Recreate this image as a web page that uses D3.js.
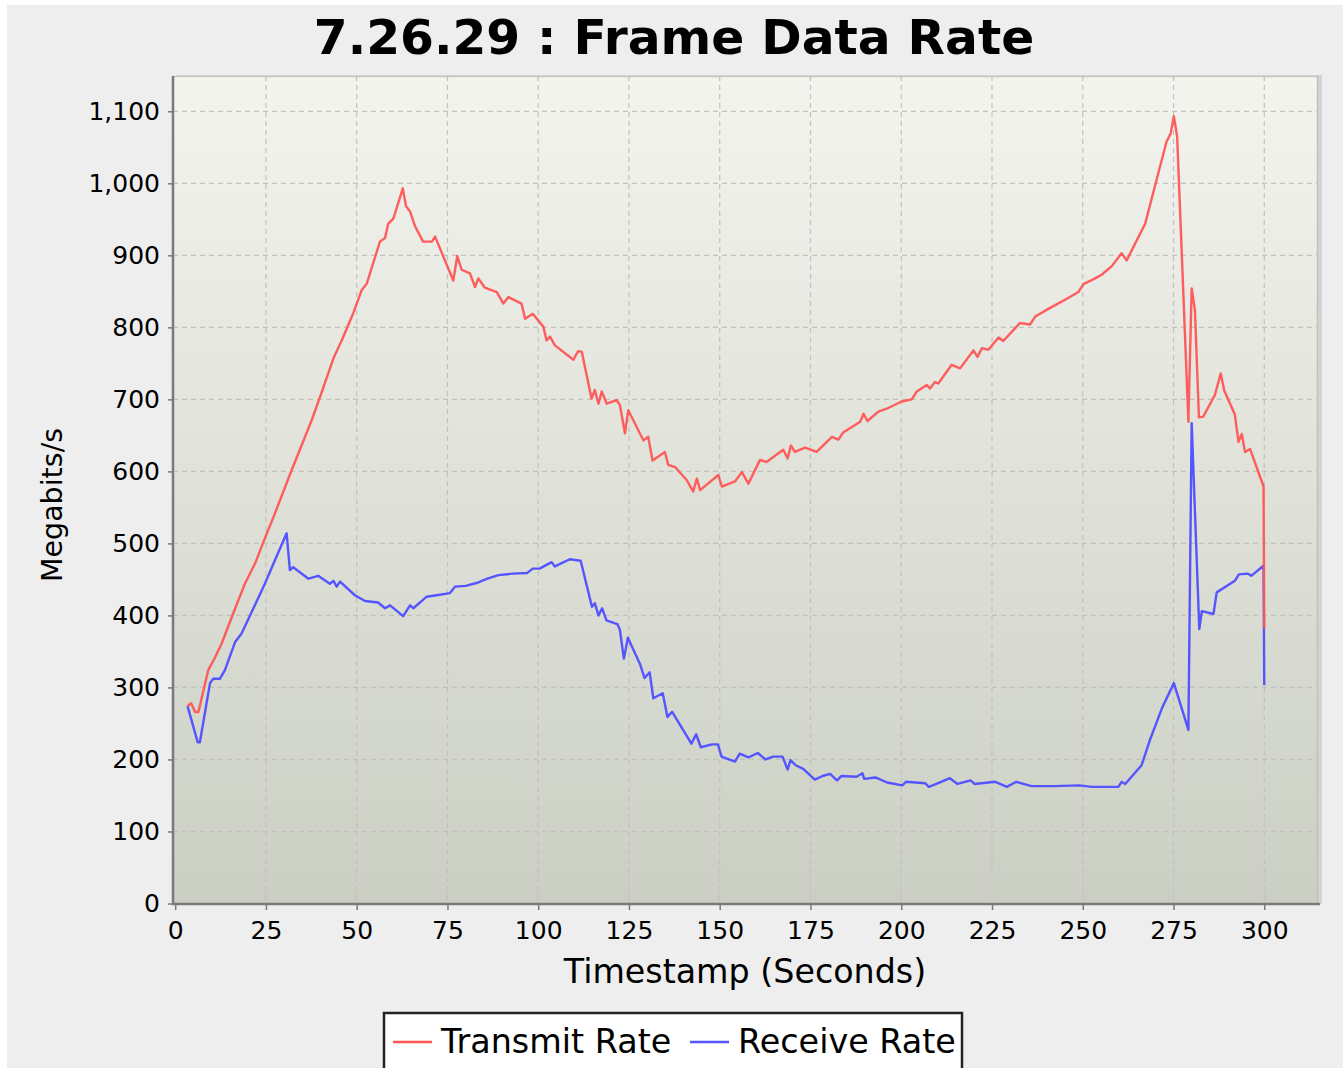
<!DOCTYPE html>
<html><head><meta charset="utf-8">
<script src="https://cdn.jsdelivr.net/npm/d3@7"></script>
<style>html,body{margin:0;padding:0;background:#fff;}svg{display:block;}</style>
</head><body>
<svg id="chart" width="1343" height="1068"></svg>
<script>
const title = "7.26.29 : Frame Data Rate";
const xLabel = "Timestamp (Seconds)";
const yLabel = "Megabits/s";
const seriesNames = ["Transmit Rate", "Receive Rate"];
const xTicks = [0,25,50,75,100,125,150,175,200,225,250,275,300];
const yTicks = [0,100,200,300,400,500,600,700,800,900,1000,1100];

const txTime = [3.4,4.4,5.5,6.4,9.1,11,12.8,16,19.2,22,24.7,27.5,32.1,37.6,40.5,43.6,45.9,49,51.4,52.8,56.4,57.8,58.7,60.1,62.7,63.6,64.7,66.1,68.3,70.7,71.6,74.3,76.6,77.7,78.9,81.2,82.6,83.5,85.3,88.6,90.4,91.8,95.4,96.4,98.5,101.4,102.3,103.3,104.6,109.7,111,112,114.7,115.6,116.6,117.5,118.9,121.6,122.5,123.9,124.8,129,130.3,131.5,134.9,135.8,137.7,140.9,142.7,143.7,144.6,149.6,150.6,154.2,156.1,157.9,161.1,162.9,167.5,168.7,169.6,170.7,173.5,176.7,180.9,182.7,184,188.7,189.6,190.7,193.7,196,200.1,202.9,204.3,207,207.9,209.3,210.2,213.9,216.2,219.9,221,222.2,224,226.8,228.1,232.7,235.5,236.9,241,245,248.8,250.2,253.4,255.2,258,260.7,262.1,267.2,270.8,273.1,274.2,275.1,276,279.1,280,280.9,282,283.2,286.4,288,289,291.9,292.9,293.8,294.7,296.1,299.8,300];
const txRate = [274,278,266,266,324,342,361,403,444,472,507,542,602,671,712,757,782,819,852,861,919,924,944,951,993,968,961,940,919,919,926,893,865,899,880,875,856,868,855,849,833,842,833,812,819,801,782,787,775,755,767,766,701,713,694,711,694,699,692,653,685,643,648,615,627,609,606,588,572,590,574,595,579,586,599,583,616,613,630,618,636,627,633,627,648,644,654,669,680,670,683,687,697,700,711,720,715,724,722,748,743,768,759,771,769,786,781,806,804,815,827,838,849,860,868,873,885,903,893,944,1014,1058,1069,1093,1065,669,854,824,675,676,706,736,712,679,641,652,627,631,579,382];

const rxTime = [3.4,6.2,6.8,9.6,10.5,12.3,13.7,16.5,18.3,21.1,24.7,27.5,30.7,31.6,32.5,36.7,39.4,42.6,43.6,44.5,45.4,49.5,52.3,55.9,57.8,59.2,62.8,64.7,65.6,69.3,72,75.7,77.1,80,83,86,89,93,97,98.5,100.4,103.7,104.6,108.7,111.7,114.8,115.6,116.6,117.6,118.8,121.8,122.5,123.6,124.7,128,129.3,130.7,131.7,134.3,135.6,136.9,142.2,143.5,144.8,147.9,149.5,150.5,154.2,155.5,157.9,160.5,162.6,164.7,167.3,168.7,169.5,170.9,173,176.2,178.3,180.4,182.3,183.5,187.7,189.3,189.8,192.9,196.1,200.3,201.3,206.6,207.6,209.7,213.4,215.5,219.1,220.2,225.9,229.1,231.7,235.9,242.2,249,252.6,259.8,260.7,261.7,266.2,268.5,271.8,275.1,279.1,280,282.1,282.8,286,286.9,291.9,293,295.5,296.4,299.8,300];
const rxRate = [274,224,224,306,312,312,324,363,375,405,444,477,514,463,467,451,455,444,448,440,447,428,420,418,410,414,399,414,410,426,428,431,440,441,445,451,456,458,459,465,465,474,468,478,476,412,417,400,410,393,388,380,340,369,333,313,321,285,292,259,266,222,235,217,221,221,204,197,208,203,209,200,204,204,186,199,192,187,172,177,180,171,177,176,181,173,175,168,164,169,167,162,166,174,166,171,166,169,162,169,163,163,164,162,162,169,166,192,227,271,306,241,667,381,406,402,432,448,457,458,455,469,303];

const colors = ["#ff5555", "#5555ff"];

const svg = d3.select("#chart");
const W = 1343, H = 1068;
const plot = {left: 173, right: 1318, top: 76, bottom: 904};

svg.append("rect").attr("x",7).attr("y",5).attr("width",W-7).attr("height",H-5).attr("fill","#eeeeee");

const defs = svg.append("defs");
const grad = defs.append("linearGradient").attr("id","bg").attr("x1",0).attr("y1",0).attr("x2",0).attr("y2",1);
grad.append("stop").attr("offset","0%").attr("stop-color","#f4f4ef");
grad.append("stop").attr("offset","100%").attr("stop-color","#cbcfc3");
defs.append("clipPath").attr("id","clip").append("rect")
  .attr("x",plot.left).attr("y",plot.top).attr("width",plot.right-plot.left).attr("height",plot.bottom-plot.top);

const x = d3.scaleLinear().domain([-0.6, 314.8]).range([plot.left, plot.right]);
const y = d3.scaleLinear().domain([0, 1149]).range([903.5, plot.top]);

// shadow + plot background
svg.append("rect").attr("x",plot.left+3).attr("y",plot.top-1).attr("width",plot.right-plot.left+1).attr("height",plot.bottom-plot.top+1).attr("fill","#d4d4d4");
svg.append("rect").attr("x",plot.left).attr("y",plot.top).attr("width",plot.right-plot.left).attr("height",plot.bottom-plot.top).attr("fill","url(#bg)");
svg.append("line").attr("x1",plot.left).attr("x2",plot.right).attr("y1",plot.top+0.5).attr("y2",plot.top+0.5).attr("stroke","#c8c8c8").attr("stroke-width",1.5);
svg.append("line").attr("x1",plot.right-0.5).attr("x2",plot.right-0.5).attr("y1",plot.top).attr("y2",plot.bottom).attr("stroke","#c0c0c0").attr("stroke-width",1.5);

// grid
const grid = svg.append("g").attr("stroke","#c2c2bc").attr("stroke-width",1.2).attr("stroke-dasharray","5,4");
grid.selectAll(".gx").data(xTicks.slice(1)).enter().append("line")
  .attr("x1",d=>x(d)).attr("x2",d=>x(d)).attr("y1",plot.top).attr("y2",plot.bottom);
grid.selectAll(".gy").data(yTicks.slice(1)).enter().append("line")
  .attr("x1",plot.left).attr("x2",plot.right).attr("y1",d=>y(d)).attr("y2",d=>y(d));

// axes
const fmt = d3.format(",");
const xAxis = d3.axisBottom(x).tickValues(xTicks).tickFormat(fmt).tickSize(6).tickSizeOuter(0).tickPadding(6);
const yAxis = d3.axisLeft(y).tickValues(yTicks).tickFormat(fmt).tickSize(5).tickSizeOuter(0).tickPadding(8);
const gx = svg.append("g").attr("transform",`translate(0,${plot.bottom})`).call(xAxis);
const gy = svg.append("g").attr("transform",`translate(${plot.left},0)`).call(yAxis);
[gx,gy].forEach(g=>{
  g.select(".domain").remove();
  g.selectAll(".tick line").attr("stroke","#7a7a7a").attr("stroke-width",1.5);
  g.selectAll(".tick text").attr("fill","#000").style("font-family","'DejaVu Sans', sans-serif").style("font-size","25px");
});
gx.selectAll(".tick text").attr("dy","0.9em");
svg.append("line").attr("x1",plot.left).attr("x2",plot.left).attr("y1",plot.top).attr("y2",plot.bottom+1).attr("stroke","#7a7a7a").attr("stroke-width",2.5);
svg.append("line").attr("x1",plot.left-1).attr("x2",plot.right+2).attr("y1",plot.bottom).attr("y2",plot.bottom).attr("stroke","#7a7a7a").attr("stroke-width",2.5);

// lines
const line = d3.line().x(d=>x(d[0])).y(d=>y(d[1]));
const rx = rxTime.map((t,i)=>[t, rxRate[i]]);
const tx = txTime.map((t,i)=>[t, txRate[i]]);
const lines = svg.append("g").attr("clip-path","url(#clip)").attr("fill","none").attr("stroke-width",2.4).attr("stroke-linejoin","round");
lines.append("path").datum(rx).attr("d",line).attr("stroke",colors[1]);
lines.append("path").datum(tx).attr("d",line).attr("stroke",colors[0]).attr("stroke-opacity",0.95);

// title & labels
svg.append("text").attr("x",674).attr("y",54).attr("text-anchor","middle")
  .style("font-family","'DejaVu Sans', sans-serif").style("font-weight","bold").style("font-size","48.7px").text(title);
svg.append("text").attr("x",745).attr("y",983).attr("text-anchor","middle")
  .style("font-family","'DejaVu Sans', sans-serif").style("font-size","33.3px").text(xLabel);
svg.append("text").attr("transform","translate(62,505) rotate(-90)").attr("text-anchor","middle")
  .style("font-family","'DejaVu Sans', sans-serif").style("font-size","28.5px").text(yLabel);

// legend
const lg = svg.append("g");
lg.append("rect").attr("x",384).attr("y",1013).attr("width",578).attr("height",70).attr("fill","#fff").attr("stroke","#222").attr("stroke-width",2.5);
const items = [{x:393, name:seriesNames[0], c:colors[0]},{x:690, name:seriesNames[1], c:colors[1]}];
items.forEach(it=>{
  lg.append("line").attr("x1",it.x).attr("x2",it.x+39).attr("y1",1042).attr("y2",1042).attr("stroke",it.c).attr("stroke-width",2.4);
  lg.append("text").attr("x",it.x+48).attr("y",1053).style("font-family","'DejaVu Sans', sans-serif").style("font-size","33.4px").text(it.name);
});
</script>
</body></html>
